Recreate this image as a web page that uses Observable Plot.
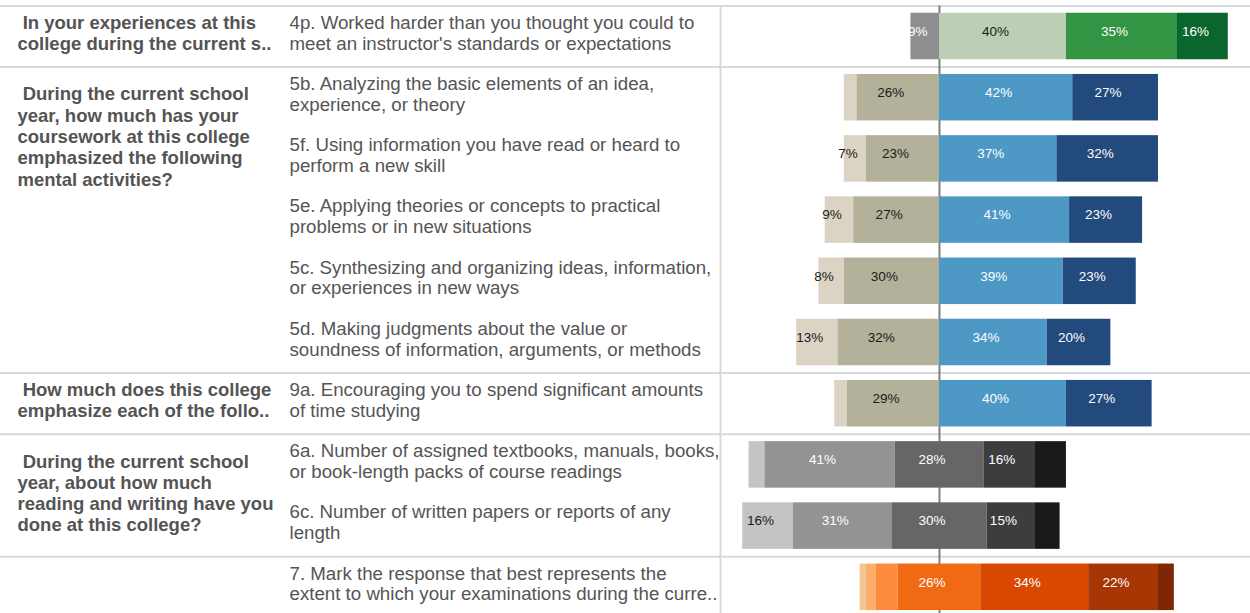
<!DOCTYPE html>
<html><head><meta charset="utf-8">
<script src="https://cdn.jsdelivr.net/npm/d3@7"></script>
<script src="https://cdn.jsdelivr.net/npm/@observablehq/plot@0.6"></script>
<style>body{margin:0;background:#fff} svg{display:block}</style>
</head><body><div id="chart"></div>
<script>
const ids = ["4p","5b","5f","5e","5c","5d","9a","6a","6c","7"];
const itemLabels = [
  "4p. Worked harder than you thought you could to\nmeet an instructor's standards or expectations",
  "5b. Analyzing the basic elements of an idea,\nexperience, or theory",
  "5f. Using information you have read or heard to\nperform a new skill",
  "5e. Applying theories or concepts to practical\nproblems or in new situations",
  "5c. Synthesizing and organizing ideas, information,\nor experiences in new ways",
  "5d. Making judgments about the value or\nsoundness of information, arguments, or methods",
  "9a. Encouraging you to spend significant amounts\nof time studying",
  "6a. Number of assigned textbooks, manuals, books,\nor book-length packs of course readings",
  "6c. Number of written papers or reports of any\nlength",
  "7. Mark the response that best represents the\nextent to which your examinations during the curre.."
];
const schemes = ["green","blue","blue","blue","blue","blue","blue","gray","gray","orange"];
const values = [
  [9, 40, 35, 16],
  [4, 26, 42, 27],
  [7, 23, 37, 32],
  [9, 27, 41, 23],
  [8, 30, 39, 23],
  [13, 32, 34, 20],
  [4, 29, 40, 27],
  [5, 41, 28, 16, 10],
  [16, 31, 30, 15, 8],
  [2, 3, 7, 26, 34, 22, 5]
];
const groupLabels = [
  "\u00a0In your experiences at this\ncollege during the current s..",
  "\u00a0During the current school\nyear, how much has your\ncoursework at this college\nemphasized the following\nmental activities?",
  "\u00a0How much does this college\nemphasize each of the follo..",
  "\u00a0During the current school\nyear, about how much\nreading and writing have you\ndone at this college?"
];
const groupFirstRow = [0, 1, 6, 7];
const groupRowCount = [1, 5, 1, 2];
const separatorRows = [0, 1, 6, 7, 9];

const palettes = {
  green: ["#8f8f8f", "#bccfb4", "#339444", "#0b662e"],
  blue: ["#dbd3c4", "#b3b19a", "#4e98c6", "#224a7c"],
  gray: ["#c4c4c4", "#939393", "#666666", "#3d3d3d", "#1a1a1a"],
  orange: ["#f3c693", "#fdae6b", "#fd8d3c", "#f16913", "#d94801", "#a63603", "#7f2704"]
};
const darkText = {
  green: [false, true, false, false],
  blue: [true, true, false, false],
  gray: [true, false, false, false, false],
  orange: [false, false, false, false, false, false, false]
};
const leftCategories = {green: 1, blue: 2, gray: 2.5, orange: 3.5};
const labelMin = {green: 5, blue: 5, gray: 12, orange: 12};

const segs = [];
values.forEach((vals, row) => {
  const s = schemes[row];
  const k = leftCategories[s];
  const whole = Math.floor(k);
  let leftSum = 0;
  for (let j = 0; j < whole; j++) leftSum += vals[j];
  leftSum += (k - whole) * vals[whole];
  let x = -leftSum;
  vals.forEach((v, j) => {
    segs.push({row, v, x1: x, x2: x + v, color: palettes[s][j],
      textColor: darkText[s][j] ? "#1a1a1a" : "#ffffff",
      show: v >= labelMin[s]});
    x += v;
  });
});

const rowPx = 61.2;
const groupData = groupLabels.map((label, i) => {
  const nLines = label.split("\n").length;
  const yc = groupFirstRow[i] + 0.5 + (groupRowCount[i] > 1 ? (nLines - 1) / 2 * 21.25 / rowPx : 0);
  return {label, y: yc};
});

const font = "'Liberation Sans', Arial, Helvetica, sans-serif";
const chart = Plot.plot({
  width: 1250, height: 613, margin: 0,
  style: {fontFamily: font, background: "#fff"},
  x: {domain: [-69, 98], range: [720, 1250], axis: null},
  y: {domain: [0, 10], range: [5.4, 617.4], axis: null},
  color: {type: "identity"},
  marks: [
    Plot.ruleY(separatorRows, {y: d => d, stroke: "#d9d9d9", strokeWidth: 2}),
    Plot.ruleX([-69], {y1: 0, y2: 10, stroke: "#d9d9d9", strokeWidth: 2}),
    Plot.ruleX([0], {y1: 0, y2: 10, stroke: "#808080", strokeWidth: 2}),
    Plot.rect(segs, {x1: "x1", x2: "x2", y1: d => d.row + 0.12, y2: d => d.row + 0.88, fill: "color"}),
    Plot.text(segs.filter(d => d.show), {
      x: d => (d.x1 + d.x2) / 2, y: d => d.row + 0.5, text: d => `${Math.round(d.v)}%`,
      dx: -7.5, dy: -5, fill: "textColor", fontSize: 13.5
    }),
    Plot.text(itemLabels, {
      frameAnchor: "left", y: (d, i) => i + 0.5, text: d => d, dx: 289, dy: -4,
      textAnchor: "start", lineAnchor: "middle", fontSize: 18.7, lineHeight: 1.12, fill: "#555555"
    }),
    Plot.text(groupData, {
      frameAnchor: "left", y: "y", text: "label", dx: 17, dy: -4,
      textAnchor: "start", lineAnchor: "middle", fontSize: 18.5, fontWeight: "bold", lineHeight: 1.15, fill: "#545454"
    })
  ]
});
document.getElementById("chart").appendChild(chart);
</script>
</body></html>
